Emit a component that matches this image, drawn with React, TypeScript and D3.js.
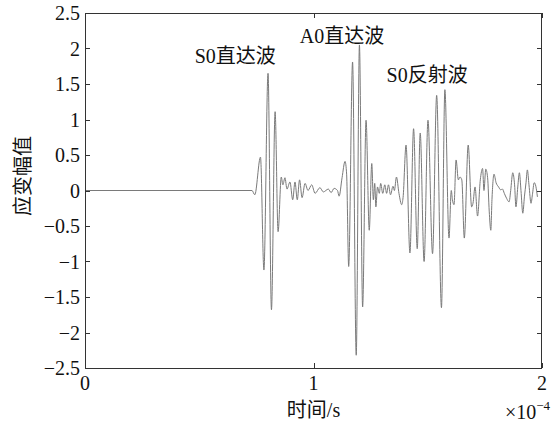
import React, { useEffect, useRef } from 'react';
import * as d3 from 'd3';

// time in units of 1e-4 s, amplitude of strain
const times = [
  0, 0.731, 0.743, 0.768, 0.783, 0.801, 0.816, 0.832, 0.845, 0.859, 0.866, 0.875, 0.884, 0.897,
  0.909, 0.919, 0.929, 0.939, 0.95, 0.963, 0.976, 0.992, 1.007, 1.028, 1.043, 1.065, 1.077, 1.09,
  1.105, 1.112, 1.125, 1.138, 1.145, 1.154, 1.171, 1.187, 1.201, 1.215, 1.23, 1.244, 1.255, 1.262,
  1.268, 1.273, 1.28, 1.288, 1.294, 1.303, 1.312, 1.32, 1.328, 1.337, 1.348, 1.354, 1.363, 1.374,
  1.386, 1.392, 1.405, 1.422, 1.438, 1.454, 1.467, 1.484, 1.501, 1.521, 1.539, 1.56, 1.575, 1.593,
  1.603, 1.608, 1.615, 1.624, 1.634, 1.641, 1.649, 1.66, 1.677, 1.692, 1.698, 1.707, 1.718, 1.73,
  1.74, 1.746, 1.754, 1.762, 1.769, 1.776, 1.781, 1.79, 1.799, 1.81, 1.819, 1.827, 1.835, 1.845,
  1.856, 1.863, 1.872, 1.88, 1.886, 1.894, 1.901, 1.908, 1.916, 1.923, 1.93, 1.936, 1.943, 1.952,
  1.958, 1.966, 1.973, 1.98,
];
const amps = [
  0, 0, -0.06, 0.47, -1.12, 1.65, -1.68, 1.11, -0.58, 0.19, 0.08, 0.18, 0.02, 0.12,
  -0.13, 0.12, -0.13, 0.15, -0.1, 0.1, 0.0, 0.08, -0.04, 0.04, -0.02, 0.02, -0.03, 0.03,
  0, -0.08, 0.18, 0.41, 0.23, -1.07, 1.81, -2.32, 2.05, -1.64, 0.99, -0.56, 0.38, -0.13,
  0.1, -0.23, 0.05, -0.04, 0.1, -0.04, 0.08, -0.04, 0.08, -0.06, 0.06, 0, 0.19, -0.04,
  -0.2, -0.1, 0.64, -0.88, 0.87, -0.82, 0.81, -1.0, 0.99, -0.89, 1.34, -1.65, 1.42, -0.67,
  0, -0.13, -0.2, 0.43, 0.15, 0.19, 0.15, -0.67, 0.64, -0.23, -0.18, 0.05, -0.36, 0.15,
  0.31, 0, 0.3, 0.18, -0.29, -0.56, -0.13, 0.23, 0.11, 0.05, 0.01, 0.02, -0.04, -0.11,
  -0.16, 0, 0.25, 0.08, -0.23, 0.05, 0.25, 0, -0.32, -0.09, 0.11, 0.29, 0.08, -0.18,
  -0.06, 0.11, 0.06, -0.09,
];

const xTicks = [0, 1, 2];
const yTicks = [-2.5, -2, -1.5, -1, -0.5, 0, 0.5, 1, 1.5, 2, 2.5];

const labels = ['S0直达波', 'A0直达波', 'S0反射波'];
const labelT = [0.48, 0.94, 1.32];
const labelA = [1.8, 2.08, 1.53];

const W = 552;
const H = 425;
const margin = { top: 13, right: 10, bottom: 57, left: 85 };
const FONT = '"Liberation Serif", "Times New Roman", "Noto Sans CJK SC", serif';

const App = () => {
  const ref = useRef(null);

  useEffect(() => {
    const svg = d3.select(ref.current);
    svg.selectAll('*').remove();

    const iw = W - margin.left - margin.right;
    const ih = H - margin.top - margin.bottom;
    const x = d3.scaleLinear().domain([0, 2]).range([margin.left, margin.left + iw]);
    const y = d3.scaleLinear().domain([-2.5, 2.5]).range([margin.top + ih, margin.top]);

    svg.append('rect').attr('width', W).attr('height', H).attr('fill', 'white');

    const data = times.map((t, i) => ({ t, a: amps[i] }));
    const line = d3.line<{ t: number; a: number }>()
      .x(d => x(d.t))
      .y(d => y(d.a))
      .curve(d3.curveMonotoneX);

    svg.append('path')
      .datum(data)
      .attr('d', line)
      .attr('fill', 'none')
      .attr('stroke', '#7a7a7a')
      .attr('stroke-width', 1);

    const axisColor = '#333';
    const g = svg.append('g').attr('stroke', axisColor).attr('stroke-width', 1);

    g.append('rect')
      .attr('x', margin.left + 0.5)
      .attr('y', margin.top + 0.5)
      .attr('width', iw - 1)
      .attr('height', ih)
      .attr('fill', 'none');

    yTicks.forEach(v => {
      const yy = Math.round(y(v)) + 0.5;
      g.append('line').attr('x1', margin.left).attr('x2', margin.left + 5).attr('y1', yy).attr('y2', yy);
      g.append('line').attr('x1', margin.left + iw - 5).attr('x2', margin.left + iw).attr('y1', yy).attr('y2', yy);
    });
    xTicks.forEach(v => {
      const xx = Math.round(x(v)) + 0.5;
      g.append('line').attr('x1', xx).attr('x2', xx).attr('y1', margin.top + ih).attr('y2', margin.top + ih - 5);
      g.append('line').attr('x1', xx).attr('x2', xx).attr('y1', margin.top).attr('y2', margin.top + 5);
    });

    const txt = svg.append('g').attr('font-family', FONT).attr('fill', '#111').attr('font-size', 20);

    txt.selectAll('.yt')
      .data(yTicks)
      .enter()
      .append('text')
      .attr('x', margin.left - 5)
      .attr('y', d => y(d) + 7)
      .attr('text-anchor', 'end')
      .text(d => (d < 0 ? '\u2212' : '') + Math.abs(d));

    txt.selectAll('.xt')
      .data(xTicks)
      .enter()
      .append('text')
      .attr('x', d => x(d))
      .attr('y', margin.top + ih + 22)
      .attr('text-anchor', 'middle')
      .text(d => d);

    const ex = txt.append('text').attr('x', margin.left + iw + 8).attr('y', 419).attr('text-anchor', 'end');
    ex.append('tspan').text('\u00d710');
    ex.append('tspan').attr('font-size', 13).attr('dy', -9).text('\u22124');

    txt.append('text')
      .attr('x', x(1))
      .attr('y', 417)
      .attr('text-anchor', 'middle')
      .text('时间/s');

    txt.append('text')
      .attr('transform', `translate(30,176) rotate(-90)`)
      .attr('text-anchor', 'middle')
      .text('应变幅值');

    labels.forEach((l, i) => {
      txt.append('text')
        .attr('x', x(labelT[i]))
        .attr('y', y(labelA[i]))
        .text(l);
    });
  }, []);

  return (
    <svg ref={ref} width={W} height={H} style={{ position: 'absolute', left: 0, top: 0 }} />
  );
};

export default App;
